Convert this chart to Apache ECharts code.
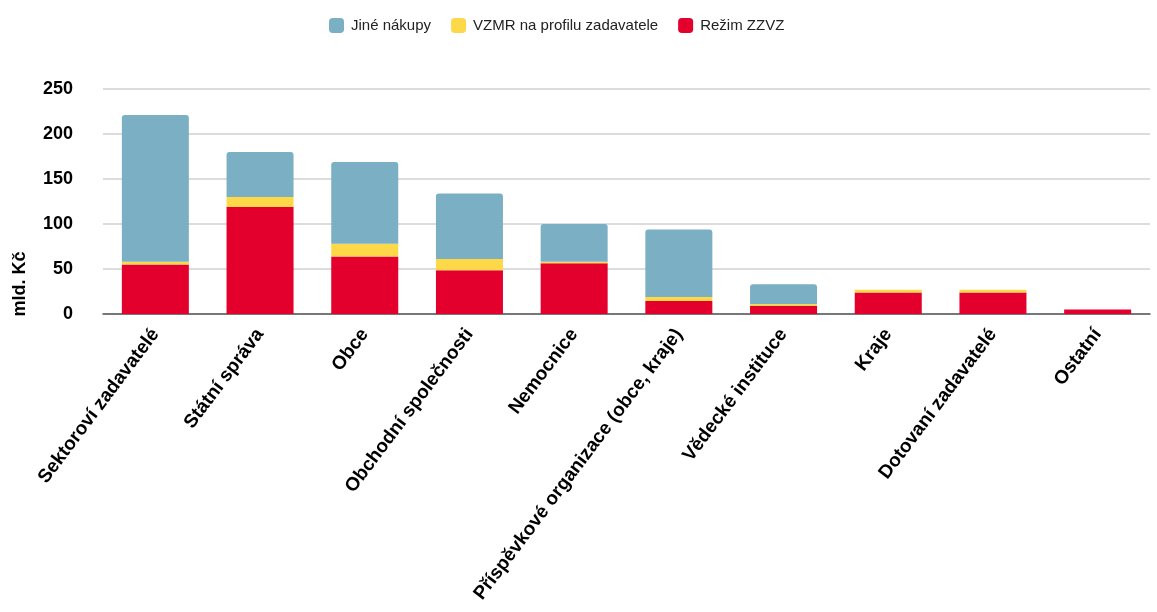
<!DOCTYPE html>
<html>
<head>
<meta charset="utf-8">
<script src="https://cdn.jsdelivr.net/npm/echarts@6/dist/echarts.min.js"></script>
<style>
  html, body { margin: 0; padding: 0; background: #fff; }
  #chart { width: 1157px; height: 612px; }
</style>
</head>
<body>
<div id="chart"></div>
<script>
// kategorie zadavatelů
var categories = ['Sektoroví zadavatelé', 'Státní správa', 'Obce', 'Obchodní společnosti', 'Nemocnice',
  'Příspěvkové organizace (obce, kraje)', 'Vědecké instituce', 'Kraje', 'Dotovaní zadavatelé', 'Ostatní'];

// hodnoty v mld. Kč
var rezimZZVZ = [55, 119, 64, 48.5, 56.5, 14.5, 9.3, 24, 24, 5];
var vzmr = [3, 11, 14, 12.5, 1.5, 4.5, 1.8, 3, 3, 0];
var jineNakupy = [163, 50, 91, 73, 42, 75, 22, 0, 0, 0];

var yTicks = [0, 50, 100, 150, 200, 250];

var font = 'Liberation Sans, Arial, sans-serif';

var chart = echarts.init(document.getElementById('chart'));

var option = {
  backgroundColor: '#ffffff',
  animation: false,
  textStyle: { fontFamily: font },
  legend: {
    data: ['Jiné nákupy', 'VZMR na profilu zadavatele', 'Režim ZZVZ'],
    top: 13,
    left: 324,
    itemWidth: 15,
    itemHeight: 15,
    itemGap: 20,
    icon: 'roundRect',
    textStyle: { fontSize: 15, color: '#222', fontFamily: font, padding: [0, 0, 0, 2] }
  },
  grid: {
    left: 103,
    right: 7,
    top: 89,
    bottom: 298
  },
  xAxis: {
    type: 'category',
    data: categories,
    axisTick: { show: false },
    axisLine: { lineStyle: { color: '#555', width: 1.5 } },
    axisLabel: {
      rotate: 53,
      interval: 0,
      margin: 17,
      color: '#000',
      fontWeight: 'bold',
      fontSize: 19,
      fontFamily: font
    }
  },
  yAxis: {
    type: 'value',
    min: yTicks[0],
    max: yTicks[yTicks.length - 1],
    interval: 50,
    axisLine: { show: false },
    axisTick: { show: false },
    splitLine: { lineStyle: { color: '#d0d0d0', width: 1.5 } },
    axisLabel: {
      margin: 30,
      color: '#000',
      fontWeight: 'bold',
      fontSize: 18,
      fontFamily: font
    }
  },
  graphic: [{
    type: 'text',
    x: 20,
    y: 284,
    rotation: Math.PI / 2,
    style: {
      text: 'mld. Kč',
      fill: '#000',
      font: 'bold 18px ' + font,
      align: 'center',
      verticalAlign: 'middle'
    }
  }],
  series: [{
    name: 'Režim ZZVZ',
    type: 'bar',
    stack: 'total',
    barWidth: '64%',
    data: rezimZZVZ,
    itemStyle: { color: '#e3002c' }
  }, {
    name: 'VZMR na profilu zadavatele',
    type: 'bar',
    stack: 'total',
    data: vzmr,
    itemStyle: { color: '#fdd94a' }
  }, {
    name: 'Jiné nákupy',
    type: 'bar',
    stack: 'total',
    data: jineNakupy,
    itemStyle: { color: '#7bafc4', borderRadius: [3, 3, 0, 0] }
  }]
};

chart.setOption(option);
</script>
</body>
</html>
